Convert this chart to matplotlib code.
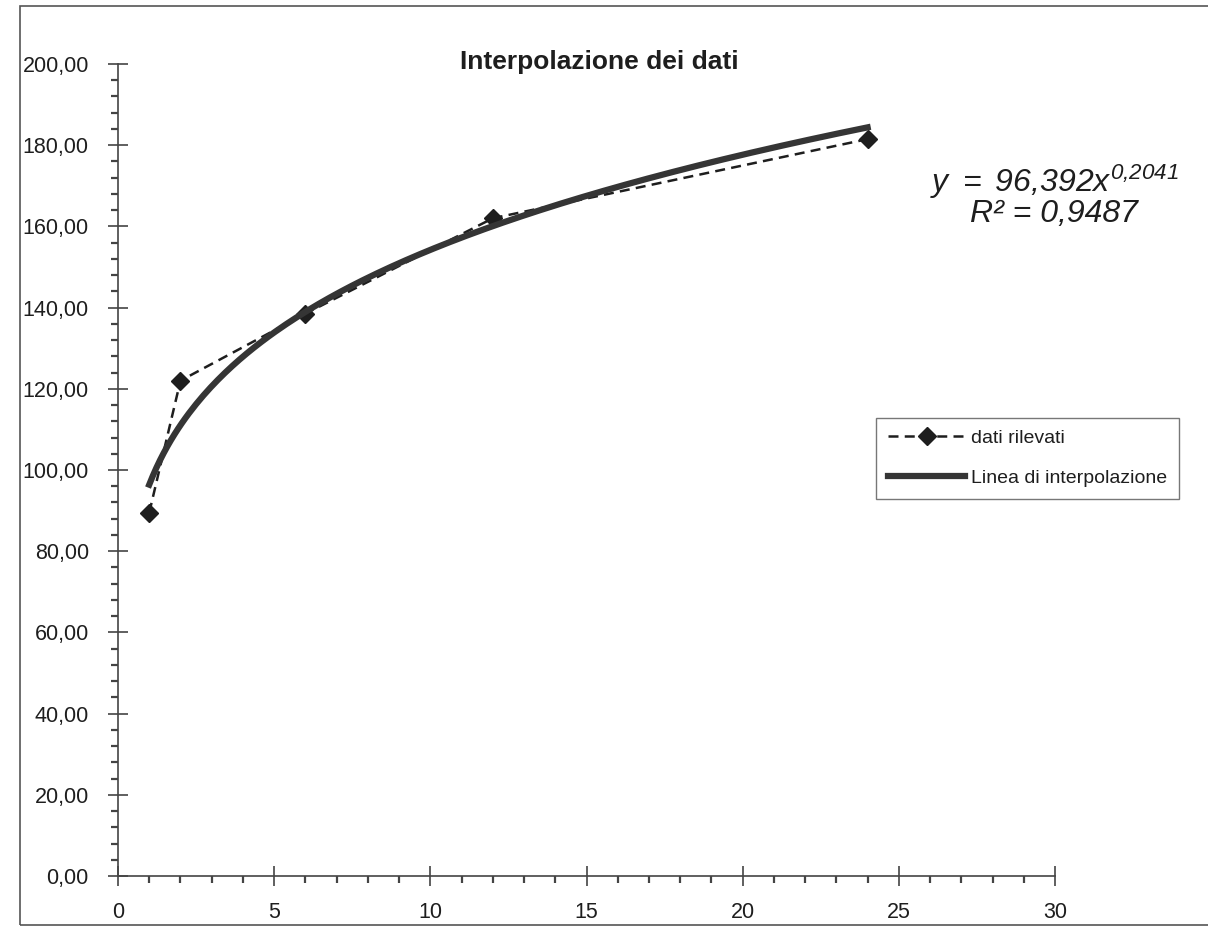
import matplotlib

matplotlib.use("Agg")
import matplotlib.pyplot as plt  # noqa: E402
import numpy as np  # noqa: E402
from matplotlib.patches import Rectangle  # noqa: E402
from matplotlib.ticker import FuncFormatter, MultipleLocator  # noqa: E402

plt.rcParams["font.family"] = ["Liberation Sans", "DejaVu Sans"]
# the only math text is the trendline equation, set fully in italic
plt.rcParams["mathtext.fontset"] = "custom"
plt.rcParams["mathtext.it"] = "Liberation Sans:italic"
plt.rcParams["mathtext.rm"] = "Liberation Sans:italic"

# measured data
x_data = [1, 2, 6, 12, 24]
y_data = [89.5, 122.0, 138.5, 162.0, 181.5]

# power trendline printed on the chart: y = a * x^b
coef_a = 96.392
coef_b = 0.2041
r_squared = "0,9487"

INK = "#1e1e1e"

fig = plt.figure(figsize=(12.08, 9.33), dpi=100)
ax = fig.add_axes([118 / 1208, 1 - 876 / 933, (1055 - 118) / 1208, (876 - 64) / 933])

# chart-area frame of the original sheet
fig.patches.append(Rectangle((20 / 1208, 8 / 933), 1.2, 0.985, transform=fig.transFigure,
                             fill=False, edgecolor="#555555", linewidth=1.2))

x_fit = np.linspace(min(x_data), max(x_data), 200)
y_fit = coef_a * x_fit ** coef_b

ax.plot(x_data, y_data, linestyle=(0, (4, 2.5)), color=INK, linewidth=1.8,
        marker="D", markersize=9, markerfacecolor=INK, markeredgecolor=INK,
        label="dati rilevati")
ax.plot(x_fit, y_fit, color="#353535", linewidth=4.5, label="Linea di interpolazione")

ax.set_xlim(0, 30)
ax.set_ylim(0, 200)
ax.xaxis.set_major_locator(MultipleLocator(5))
ax.xaxis.set_minor_locator(MultipleLocator(1))
ax.yaxis.set_major_locator(MultipleLocator(20))
ax.yaxis.set_minor_locator(MultipleLocator(4))
ax.yaxis.set_major_formatter(FuncFormatter(lambda v, _: f"{v:.2f}".replace(".", ",")))

for s in ("top", "right"):
    ax.spines[s].set_visible(False)
for s in ("left", "bottom"):
    ax.spines[s].set_color("#444444")
    ax.spines[s].set_linewidth(1.2)

ax.tick_params(which="major", direction="inout", length=14, width=1.2, colors="#444444",
               labelcolor=INK, labelsize=15.5)
ax.tick_params(which="minor", direction="out", length=5, width=1.6, colors="#444444")
ax.tick_params(axis="x", which="major", pad=12)
ax.tick_params(axis="y", which="major", pad=14)

fig.text(599 / 1208, 1 - 62 / 933, "Interpolazione dei dati", ha="center", va="center",
         fontsize=19, fontweight="bold", color=INK)

fig.text(1054 / 1208, 1 - 182 / 933,
         r"$y\ =\ 96{,}392x^{0{,}2041}$",
         ha="center", va="center", fontsize=23, color=INK)
fig.text(1054 / 1208, 1 - 214 / 933, f"R² = {r_squared}", ha="center", va="center",
         fontsize=23, style="italic", color=INK)

leg = ax.legend(loc="upper left", bbox_to_anchor=(876 / 1208, 1 - 418 / 933),
                bbox_transform=fig.transFigure, fontsize=14, frameon=True,
                fancybox=False, edgecolor="#555555", handlelength=4.0,
                borderpad=0.6, labelspacing=1.15, handletextpad=0.3, borderaxespad=0)
leg.get_frame().set_linewidth(1.0)
for t in leg.get_texts():
    t.set_color(INK)

fig.savefig("out.png", dpi=100)
